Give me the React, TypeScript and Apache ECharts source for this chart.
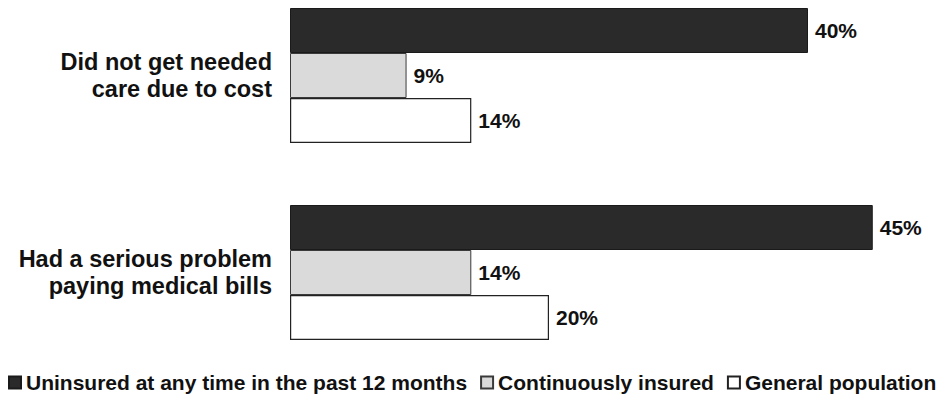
import React, { useEffect, useRef } from "react";
import * as echarts from "echarts";

const categories = ["Did not get needed\ncare due to cost", "Had a serious problem\npaying medical bills"];
const seriesNames = ["Uninsured at any time in the past 12 months", "Continuously insured", "General population"];
const uninsured = [40, 45];
const continuouslyInsured = [9, 14];
const generalPopulation = [14, 20];

export default function App() {
  const ref = useRef<HTMLDivElement>(null);
  useEffect(() => {
    if (!ref.current) return;
    const chart = echarts.init(ref.current, undefined, { renderer: "svg" });
    const labelStyle = {
      show: true,
      position: "right" as const,
      distance: 7,
      formatter: "{c}%",
      fontFamily: "Liberation Sans, Arial, sans-serif",
      fontWeight: "bold" as const,
      fontSize: 21,
      color: "#111",
    };
    const styles = [
      { color: "#2a2a2a", borderColor: "#1a1a1a", borderWidth: 1 },
      { color: "#dadada", borderColor: "#3a3a3a", borderWidth: 1 },
      { color: "#ffffff", borderColor: "#222", borderWidth: 1.2 },
    ];
    const data = [uninsured, continuouslyInsured, generalPopulation];
    chart.setOption({
      animation: false,
      backgroundColor: "#fff",
      grid: { left: 290, right: 3.5, top: 75.5, height: 197, containLabel: false },
      legend: {
        left: 8,
        top: 372,
        width: 933,
        padding: 0,
        itemWidth: 12,
        itemHeight: 12,
        itemGap: 13,
        icon: "rect",
        textStyle: {
          fontFamily: "Liberation Sans, Arial, sans-serif",
          fontWeight: "bold",
          fontSize: 21,
          color: "#111",
        },
        data: seriesNames,
      },
      xAxis: {
        type: "value",
        min: 0,
        max: 50,
        show: false,
        splitLine: { show: false },
      },
      yAxis: {
        type: "category",
        inverse: true,
        boundaryGap: false,
        data: categories,
        axisLine: { show: false },
        axisTick: { show: false },
        splitLine: { show: false },
        axisLabel: {
          margin: 18,
          align: "right",
          fontFamily: "Liberation Sans, Arial, sans-serif",
          fontWeight: "bold",
          fontSize: 23.5,
          lineHeight: 27,
          color: "#111",
        },
      },
      series: seriesNames.map((name, i) => ({
        name,
        type: "bar",
        data: data[i],
        barWidth: 45,
        barGap: "0%",
        itemStyle: styles[i],
        label: labelStyle,
      })),
    });
    return () => chart.dispose();
  }, []);
  return <div ref={ref} style={{ position: "fixed", left: 0, top: 0, width: 941, height: 402 }} />;
}
